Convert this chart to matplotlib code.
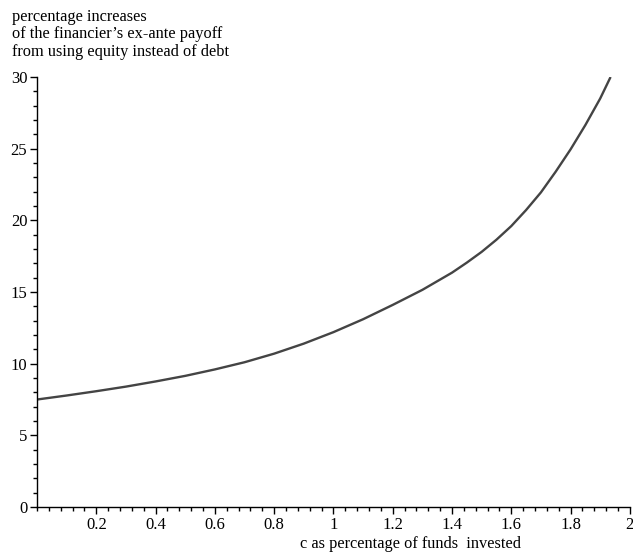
import matplotlib.pyplot as plt
from matplotlib.ticker import MultipleLocator

# values
c_share = [0.0, 0.1, 0.2, 0.3, 0.4, 0.5, 0.6, 0.7, 0.8, 0.9, 1.0,
           1.1, 1.2, 1.3, 1.4, 1.45, 1.5, 1.55, 1.6, 1.65, 1.7,
           1.75, 1.8, 1.85, 1.9, 1.935]
pct_increase = [7.5, 7.78, 8.08, 8.4, 8.76, 9.15, 9.6, 10.1, 10.7, 11.4, 12.2,
                13.1, 14.1, 15.15, 16.35, 17.05, 17.8, 18.65, 19.6, 20.72, 21.95,
                23.4, 24.95, 26.65, 28.5, 30.0]

x_ticks = [0.2, 0.4, 0.6, 0.8, 1, 1.2, 1.4, 1.6, 1.8, 2]
x_tick_labels = ['0.2', '0.4', '0.6', '0.8', '1', '1.2', '1.4', '1.6', '1.8', '2']
y_ticks = [0, 5, 10, 15, 20, 25, 30]

title_lines = ['percentage increases',
               'of the financier\u2019s ex-ante payoff',
               'from using equity instead of debt']
x_title = 'c as percentage of funds  invested'

plt.rcParams['font.family'] = ['Liberation Serif', 'DejaVu Serif']

fig = plt.figure(figsize=(6.33, 5.54), dpi=100)
ax = fig.add_axes([0.0585, 0.0848, 0.9365, 0.7762])

ax.plot(c_share, pct_increase, color='#444444', linewidth=1.7,
        solid_joinstyle='round', solid_capstyle='butt')

ax.set_xlim(0, 2)
ax.set_ylim(0, 30)
ax.spines['top'].set_visible(False)
ax.spines['right'].set_visible(False)
ax.spines['left'].set_linewidth(1.0)
ax.spines['bottom'].set_linewidth(1.0)

ax.set_xticks(x_ticks)
ax.set_xticklabels(x_tick_labels)
ax.set_yticks(y_ticks)
ax.xaxis.set_minor_locator(MultipleLocator(0.04))
ax.yaxis.set_minor_locator(MultipleLocator(1))
ax.tick_params(which='major', length=5, width=1, labelsize=12, pad=2, color='black')
ax.tick_params(which='minor', length=3, width=1, color='black')

# text above and below the plot
for i, line in enumerate(title_lines):
    fig.text(12 / 633, 1 - (17 + i * 17.5) / 554, line, fontsize=11.8,
             ha='left', va='center')
fig.text(410 / 633, 2 / 554, x_title, fontsize=11.8, ha='center', va='bottom')

fig.savefig('out.png', dpi=100)
